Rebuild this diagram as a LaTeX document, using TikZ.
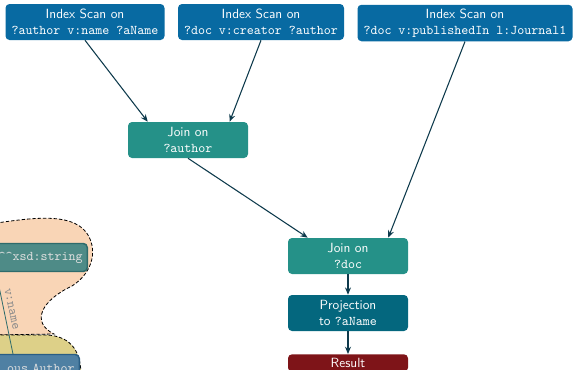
\documentclass[tikz,border=0pt]{standalone}
\usepackage{tikz}
\usetikzlibrary{arrows.meta}

\definecolor{scanblue}{RGB}{8,106,162}
\definecolor{jointeal}{RGB}{37,145,136}
\definecolor{projblue}{RGB}{4,103,126}
\definecolor{resultred}{RGB}{126,20,24}
\definecolor{flowline}{RGB}{14,58,76}
\definecolor{peach}{RGB}{249,213,182}
\definecolor{straw}{RGB}{221,208,136}
\definecolor{litteal}{RGB}{78,139,135}
\definecolor{litborder}{RGB}{46,107,107}
\definecolor{resblue}{RGB}{79,128,163}
\definecolor{resborder}{RGB}{42,94,133}

\tikzset{
  op/.style={rounded corners=3pt, text=white, align=center, font=\sffamily, inner xsep=4.5pt, inner ysep=3pt},
  scanbox/.style={op, fill=scanblue, minimum height=27pt},
  joinbox/.style={op, fill=jointeal, minimum width=90pt, minimum height=27pt},
  flow/.style={draw=flowline, line width=0.8pt, -{Stealth[length=5.5pt,width=4.5pt]}},
  blob/.style={draw=black, line width=0.6pt, dash pattern=on 2.5pt off 1.5pt},
  term/.style={rounded corners=3pt, line width=1.1pt, text=black!12, font=\ttfamily, align=right, inner xsep=3.5pt, minimum height=21pt},
}

\begin{document}
\begin{tikzpicture}[x=0.75pt, y=-0.75pt]
  \useasboundingbox (0,0) rectangle (576,369);
  \clip (0,0) rectangle (576,369);

  % data graph fragment, bottom left
  \draw [blob, fill=peach] (-10,224) .. controls (30,218) and (70,212) .. (86,232)
    .. controls (98,248) and (94,272) .. (72,286)
    .. controls (42,300) and (30,322) .. (54,334) -- (-10,335) -- cycle;
  \draw [blob, fill=straw] (-10,335) -- (48,335) .. controls (72,337) and (82,352) .. (81,380) -- (-10,380) -- cycle;
  \node [term, fill=litteal, draw=litborder, anchor=east, text width=96pt] (lit) at (88,257.5) {\^{}\^{}xsd:string};
  \node [term, fill=resblue, draw=resborder, anchor=east, text width=96pt] (author) at (80,368.5) {ous Author};
  \coordinate (litfoot) at (-4,272);
  \coordinate (authtop) at (13,354);
  \draw [draw=litborder, line width=0.6pt] (litfoot) -- (authtop);
  \node [text=black!45, font=\ttfamily, rotate=-78, inner sep=0pt] (vname) at (11.5,309) {v:name};

  % query plan
  \node [scanbox] (scanA) at (85,22) {Index Scan on\\\texttt{?author v:name ?aName}};
  \node [scanbox] (scanB) at (261,22) {Index Scan on\\\texttt{?doc v:creator ?author}};
  \node [scanbox] (scanC) at (465,23) {Index Scan on\\\texttt{?doc v:publishedIn l:Journal1}};
  \node [joinbox] (joinA) at (188,140) {Join on\\\texttt{?author}};
  \node [joinbox] (joinB) at (348,256) {Join on\\\texttt{?doc}};
  \node [op, fill=projblue, minimum width=90pt, minimum height=27pt] (proj) at (348,313) {Projection\\to \texttt{?aName}};
  \node [op, fill=resultred, minimum width=90pt] (result) at (348,363) {Result};

  \draw [flow] (scanA.south) -- ([xshift=15pt]joinA.north west);
  \draw [flow] (scanB.south) -- ([xshift=-14pt]joinA.north east);
  \draw [flow] (joinA.south) -- ([xshift=15pt]joinB.north west);
  \draw [flow] (scanC.south) -- ([xshift=-15pt]joinB.north east);
  \draw [flow] (joinB.south) -- (proj.north);
  \draw [flow] (proj.south) -- (result.north);
\end{tikzpicture}
\end{document}
